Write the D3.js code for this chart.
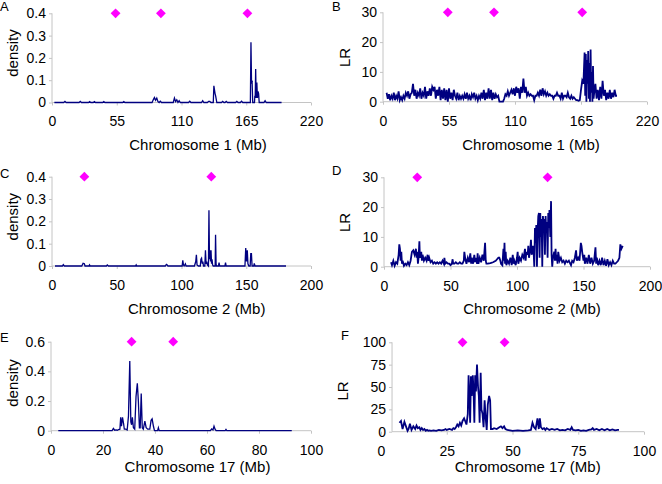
<!DOCTYPE html>
<html>
<head>
<meta charset="utf-8">
<script src="https://cdn.jsdelivr.net/npm/d3@7"></script>
<style>
  html, body { margin: 0; padding: 0; background: #fff; }
  svg { display: block; font-family: "Liberation Sans", Arial, sans-serif; }
</style>
</head>
<body>
<svg id="chart" width="662" height="484"></svg>
<script>
// ---------------- DATA ----------------
const panelLetters = ["A", "B", "C", "D", "E", "F"];
const xTitles = ["Chromosome 1 (Mb)", "Chromosome 1 (Mb)", "Chromosome 2 (Mb)", "Chromosome 2 (Mb)", "Chromosome 17 (Mb)", "Chromosome 17 (Mb)"];
const yTitles = ["density", "LR", "density", "LR", "density", "LR"];

const chr1XTicks = [0, 55, 110, 165, 220];
const chr2XTicks = [0, 50, 100, 150, 200];
const chr17XTicksDensity = [0, 20, 40, 60, 80, 100];
const chr17XTicksLR = [0, 25, 50, 75, 100];
const densityTicks = [0, 0.1, 0.2, 0.3, 0.4];
const densityTicks17 = [0, 0.2, 0.4, 0.6];
const lrTicks = [0, 10, 20, 30];
const lrTicks17 = [0, 25, 50, 75, 100];

// marker (diamond) positions, Mb
const chr1Markers = [54, 92.5, 166];
const chr2Markers = [25, 123];
const chr17Markers = [31, 47];

// [Mb, density]
const chr1Density = [[2,0],[10,0],[11,0.005],[12,0],[23,0],[24,0.005],[25,0],[31,0],[32,0.004],[33,0],[35,0],[36,0.004],[37,0],[43,0],[44,0.004],[45,0],[60,0],[61,0.004],[62,0],
[85,0],[86,0.012],[87,0.022],[88,0.01],[89,0.02],[90,0.004],[91,0],[92,0.006],[93,0],
[103,0],[104,0.02],[105,0.004],[106,0.012],[107,0],[108,0.008],[109,0],
[116,0],[117,0.006],[118,0],[127,0],[128,0.008],[129,0],[132,0],[133,0.005],[134,0.005],[135,0],
[137,0],[137.5,0.075],[138.5,0.04],[139,0.03],[140,0],
[144,0],[145,0.005],[146,0],[147,0],[148,0.005],[149,0],[156,0],[157,0.005],[158,0],[160,0],[161,0.006],[162,0],
[168.5,0],[169,0.27],[169.5,0.085],[170,0.09],[170.5,0],
[172,0],[172.3,0.03],[172.6,0.02],[173,0.15],[173.4,0.02],[174,0.09],[174.5,0.02],[175,0.05],[175.5,0.04],[176,0],
[180,0],[181,0.008],[182,0],[195,0]];

// [Mb, LR]
const chr1LR = [[3,3],[4,1],[5,2.5],[6,0.5],[7,2],[8,1],[9,3],[10,0.5],[11,2],[12,1],[13,3.5],[14,0.5],[15,1.5],[16,0.5],[17,2],[18,1],[19,3],[20,2],[21,3.5],[22,1],[23,2.5],[24,3],[25,6],[26,2],[27,4],[28,1],[29,3],[30,2],[31,4.5],[32,1],[33,3],[34,2],[35,5],[36,1],[37,3.5],[38,2],[39,4.5],[40,2],[41,5],[42,4],[43,5],[44,1],[45,4],[46,2],[47,5],[48,0.5],[49,4],[50,1],[51,4.5],[52,0.5],[53,4],[54,0],[55,4.5],[56,1],[57,3],[58,0.5],[59,4],[60,2],[61,1],[62,3],[63,0.5],[64,2],[65,1],[66,2],[67,1],[68,2.5],[69,1],[70,3],[71,1],[72,2],[73,0.5],[74,2.5],[75,1.5],[76,3],[77,1],[78,2],[79,0.5],[80,2],[81,1],[82,3],[83,1],[84,4],[85,0.5],[86,3],[87,1],[88,4.5],[89,1],[90,4],[91,0.5],[92,3],[93,1],[94,2.5],[95,1.5],[96,2],[97,0],[100,0],[101,1],[102,2.5],[103,2],[104,3.5],[105,2],[106,3],[107,4],[108,2.5],[109,4.5],[110,2],[111,5],[112,3],[113,4.5],[114,1],[115,5],[116,3],[117,7.8],[118,3],[119,5],[120,2],[121,3],[122,2],[123,2.5],[124,2],[125,2],[126,0.5],[127,2],[128,2],[129,3],[130,2],[131,4],[132,2],[133,4.5],[134,2.5],[135,3.5],[136,2],[137,3],[138,2],[139,2.5],[140,2],[141,2],[142,1],[143,2],[144,2],[145,3],[146,2],[147,2],[148,1],[149,3],[150,1],[151,2],[152,2],[153,1.5],[154,3],[155,1.5],[156,1],[157,2],[158,1],[159,1.5],[160,1],[161,0.5],[162,0.5],[163,0.3],[164,0.5],[165,4],[166,7],[167,6],[168,16.5],[168.5,2],[169,16],[169.5,0],[170,14],[170.5,6],[171,17],[171.5,1],[172,13],[172.5,0],[173,17.5],[173.5,3],[174,10],[174.5,0],[175,12],[175.5,1],[176,3],[177,6],[178,1],[179,4],[180,0.5],[181,5],[182,1],[183,7],[184,2],[185,4],[186,0.5],[187,3],[188,1],[189,4],[190,1],[191,3],[192,1.5],[193,4],[194,2],[195,2]];

const chr2Density = [[2.3,0],[8,0],[8.7,0.006],[9.5,0],[23,0],[24,0.012],[25,0.01],[25.5,0],[28.5,0],[29,0.005],[29.5,0],[42,0],[42.7,0.005],[43.5,0],[64.5,0],[65,0.005],[65.5,0],[87.5,0],[88.3,0.007],[89,0.005],[89.5,0],[100.5,0],[101,0.025],[101.5,0.005],[102,0],[103,0.01],[103.5,0],[110,0],[111,0.02],[111.5,0.05],[112,0.005],[113,0],[114.5,0],[115,0.03],[115.5,0.035],[116,0.01],[116.5,0.02],[117,0],[118,0],[118.5,0.07],[119,0.01],[119.5,0.02],[120,0.005],[120.8,0],[121.2,0.25],[121.6,0.03],[122,0.07],[122.4,0.02],[122.8,0.07],[123.2,0.01],[123.6,0.03],[124,0.005],[124.5,0],[126,0],[126.3,0.14],[126.7,0.01],[127,0],[128.5,0],[129,0.015],[129.5,0],[133.5,0],[134,0.015],[134.5,0],[149,0],[149.6,0.08],[150.2,0.02],[150.8,0.07],[151.3,0.01],[152,0],[153,0],[153.5,0.055],[154,0.055],[154.5,0],[155.8,0],[156.2,0.012],[156.8,0],[180.7,0]];

const chr2LR = [[5.3,1.5],[6,0.5],[7,2],[8,0.3],[9,1.5],[10,1],[11,4],[11.5,7.5],[12,6],[12.5,2],[13,5],[13.5,1],[14,2],[15,0.3],[16,1],[17,0.5],[18,1.5],[19,0.5],[20,2],[21,5],[22,5.5],[23,4],[24,6],[24.5,3],[25,5],[25.5,1],[26,3],[26.6,8.5],[27,3],[28,5],[28.5,2],[29,4],[30,2],[31,3],[32,2],[32.8,4],[33.5,2],[34,3],[35,1.5],[36,2],[37,1],[38,1.5],[39,1],[40,1.5],[41,1],[42,1.5],[43,1],[44,2],[45,1],[45.4,3],[46,1],[47,1.5],[48,1],[49,1],[50,0.5],[51,1],[51.6,2.5],[52,1],[53,1],[54,1.5],[55,1],[56,1],[57,1.5],[58,1],[59,1],[60,2],[60.4,5],[61,3],[62,1],[63,3],[64,1.5],[64.9,4.5],[65.5,1],[66,3],[67,1],[67.9,4],[68.5,1.5],[69,3],[70,1],[70.4,4.5],[71,1],[72,3],[73,1.5],[74,4],[75,2],[75.5,5],[76,8],[76.5,2],[77,1],[78,1],[80,1.2],[82,1.5],[84,2],[85,2.5],[86,3],[86.7,3],[87.5,2],[88,1],[89,0.5],[89.8,6],[90.2,2],[90.6,8],[91,1],[91.5,5],[92,0.5],[93,2],[94,1],[95,3],[96,0.5],[96.8,4],[97.5,1],[98,2],[99,0.5],[100,3],[100.5,5],[101,1],[102,3],[103,2],[104,4],[105,3],[106,6],[106.5,2],[107,5],[108,4],[108.5,7],[109,3],[110,6],[110.5,9],[111,4],[112,7],[112.5,5],[113,0],[113.5,13],[114,8],[114.5,14],[115,0],[115.5,12],[116,17],[116.5,18],[117,3],[117.5,18],[118,10],[118.5,16],[119,0],[119.5,17],[120,14],[120.5,16],[121,4],[121.5,17],[122,12],[122.5,15],[123,3],[123.5,18],[124,13],[124.4,19],[125,10],[125.6,22],[126,4],[126.5,0],[127,3],[128,5],[128.5,2],[129,6],[129.5,2],[130,4],[130.5,1],[131,5],[132,2],[133,3],[134,1.5],[135,2],[136,1],[137,2],[138,1.5],[139,2],[140,1],[140.6,0.5],[141.5,2],[142.5,1.5],[143.5,3],[144.4,5.5],[145,2],[146,3],[147,2],[148,8],[148.5,7],[149,5],[150,2],[150.6,4],[151,1],[152,3],[153,1],[154,4],[155,1],[156,3],[157,1],[158,2],[159,6.5],[159.5,1],[160,3],[161,0.5],[162,2],[163,0.5],[164,3],[165,0.5],[166,2],[167,0.3],[168,2.5],[169,0.5],[170,1.5],[171,0.5],[172,2],[173,1],[174,1],[175,1.5],[176,2],[177,3],[177.7,7.5],[178.5,6],[179.5,7]];

const chr17Density = [[2.8,0],[23.5,0],[24,0.015],[24.5,0.003],[25,0.005],[25.5,0.003],[26,0.008],[26.5,0.01],[26.8,0.09],[27.1,0.03],[27.5,0.09],[27.9,0.05],[28.2,0.01],[28.8,0.01],[29.3,0.005],[29.8,0.1],[30.3,0.47],[30.7,0.06],[31,0.04],[31.3,0.09],[31.7,0.02],[32.2,0.01],[32.7,0.23],[33.2,0.32],[33.6,0.2],[34,0.02],[34.3,0.02],[34.7,0.25],[35.1,0.02],[35.5,0.01],[36.1,0.065],[36.6,0.02],[37.2,0.01],[38,0.01],[38.5,0.07],[38.9,0.08],[39.4,0.03],[39.8,0],[41,0],[41.3,0.02],[41.6,0],[61.3,0],[61.8,0.012],[62.3,0.005],[62.7,0.03],[63.1,0.01],[63.5,0],[67,0],[67.3,0.008],[67.6,0],[92.6,0]];

const chr17LR = [[7,10],[7.6,12],[8.2,3],[8.9,11],[9.5,6],[10.1,1],[10.5,3],[11,9],[11.6,2],[12.3,6],[13,3],[13.5,7],[14,4],[14.6,5],[15,2],[15.5,4],[16,2],[16.5,3],[17,1],[17.5,2],[18,1],[18.5,1.5],[19,1],[20,1.5],[21,1],[22,2],[23,1.5],[24,2],[24.5,3],[25,2],[26,3],[27,2],[27.5,4],[28,3],[28.5,5],[29,8],[29.5,6],[30,10],[30.5,7],[31,12],[31.6,15],[32,12],[32.5,8],[33,20],[33.3,63],[33.6,40],[33.9,10],[34.2,62],[34.5,40],[34.9,63],[35.2,45],[35.5,10],[35.8,63],[36.1,45],[36.5,75],[36.9,50],[37.2,40],[37.5,10],[37.9,66],[38.2,25],[38.6,20],[39,5],[39.4,35],[39.8,15],[40.2,2],[40.6,30],[41.1,40],[41.5,35],[41.8,3],[42.5,3],[43,4],[44,3],[45,5],[45.6,6],[46.2,4],[46.8,6],[47.3,3],[48,2],[49,1.5],[50,1],[52,1.5],[54,1],[56,1.5],[57,2],[57.6,10],[58.2,5],[58.8,3],[59.5,15],[60,3],[60.4,15],[60.8,5],[61.4,3],[62,4],[62.5,2],[63,4],[64,2],[65,3],[66,2],[67,3],[68,1.5],[69,2],[70,1.5],[71,3],[72,2],[72.5,5],[73,2],[74,1.5],[75,2],[76,1],[77,1.5],[78,1],[79,2],[80,2.5],[80.5,4],[81,2],[82,3],[83,1.5],[84,3],[85,1.5],[86,3],[87,1.5],[88,2.5],[89,1.5],[90,2],[90.5,2]];

// ---------------- LAYOUT ----------------
const LINE = "#000080", AXIS = "#c4c4c4", MARK = "#ff00ff";
const panels = [
  { letter: panelLetters[0], lx: 0, ly: 11, data: chr1Density, markers: chr1Markers, xDom: [0,220], xR: [52,311], yDom: [0,0.4], yR: [102.5,13.3], yAxisX: 0, xTicks: chr1XTicks, yTicks: densityTicks, xTitle: xTitles[0], xtx: 198, xty: 150, yTitle: yTitles[0], ytx: 18, yty: 53, fmt: d3.format(".1~f"), sw: 1.3 },
  { letter: panelLetters[1], lx: 332, ly: 11, data: chr1LR, markers: chr1Markers, xDom: [0,220], xR: [383,647], yDom: [0,30], yR: [101.7,12.3], yAxisX: 0, xTicks: chr1XTicks, yTicks: lrTicks, xTitle: xTitles[1], xtx: 531, xty: 150, yTitle: yTitles[1], ytx: 349.5, yty: 57.5, fmt: d3.format("d"), sw: 1.8 },
  { letter: panelLetters[2], lx: 0, ly: 178, data: chr2Density, markers: chr2Markers, xDom: [0,200], xR: [52,311], yDom: [0,0.4], yR: [266,176.7], yAxisX: 0, xTicks: chr2XTicks, yTicks: densityTicks, xTitle: xTitles[2], xtx: 196.7, xty: 313.5, yTitle: yTitles[2], ytx: 18, yty: 216.7, fmt: d3.format(".1~f"), sw: 1.3 },
  { letter: panelLetters[3], lx: 332, ly: 175, data: chr2LR, markers: chr2Markers, xDom: [0,200], xR: [384,650], yDom: [0,30], yR: [266.7,177.3], yAxisX: 0, xTicks: chr2XTicks, yTicks: lrTicks, xTitle: xTitles[3], xtx: 532, xty: 313.5, yTitle: yTitles[3], ytx: 350, yty: 222.5, fmt: d3.format("d"), sw: 1.8 },
  { letter: panelLetters[4], lx: 0, ly: 342, data: chr17Density, markers: chr17Markers, xDom: [0,100], xR: [51,311], yDom: [0,0.6], yR: [430.7,341.7], yAxisX: 0, xTicks: chr17XTicksDensity, yTicks: densityTicks17, xTitle: xTitles[4], xtx: 197.5, xty: 472, yTitle: yTitles[4], ytx: 18, yty: 383, fmt: d3.format(".1~f"), sw: 1.3 },
  { letter: panelLetters[5], lx: 341, ly: 340, data: chr17LR, markers: chr17Markers, xDom: [0,100], xR: [381,644], yDom: [0,100], yR: [431.7,342.3], yAxisX: 4.2, xTicks: chr17XTicksLR, yTicks: lrTicks17, xTitle: xTitles[5], xtx: 527.7, xty: 472, yTitle: yTitles[5], ytx: 348, yty: 391, fmt: d3.format("d"), sw: 1.8 }
];

const svg = d3.select("#chart");

panels.forEach(p => {
  const x = d3.scaleLinear().domain(p.xDom).range(p.xR);
  const y = d3.scaleLinear().domain(p.yDom).range(p.yR);
  const g = svg.append("g");
  const ax0 = x(p.yAxisX);

  // y axis
  const yAxis = d3.axisLeft(y).tickValues(p.yTicks).tickSize(3).tickPadding(3).tickFormat(p.fmt);
  const ya = g.append("g").attr("transform", `translate(${ax0},0)`).call(yAxis);
  ya.select(".domain").attr("stroke", AXIS).attr("d", `M0,${p.yR[0]}V${p.yR[1]}`);
  ya.selectAll(".tick line").attr("stroke", AXIS);
  ya.selectAll(".tick text").attr("font-size", 14).attr("fill", "#000")
    .attr("font-family", "Liberation Sans, Arial, sans-serif");

  // x axis
  const xAxis = d3.axisBottom(x).tickValues(p.xTicks).tickSize(3).tickPadding(11).tickFormat(d3.format("d"));
  const xa = g.append("g").attr("transform", `translate(0,${p.yR[0]})`).call(xAxis);
  xa.select(".domain").attr("stroke", AXIS).attr("d", `M${ax0},0H${p.xR[1]}`);
  xa.selectAll(".tick line").attr("stroke", AXIS);
  xa.selectAll(".tick text").attr("font-size", 14).attr("fill", "#000")
    .attr("font-family", "Liberation Sans, Arial, sans-serif");

  // series line
  const line = d3.line().x(d => x(d[0])).y(d => y(d[1]));
  g.append("path").datum(p.data).attr("d", line)
    .attr("fill", "none").attr("stroke", LINE).attr("stroke-width", p.sw).attr("stroke-linejoin", "miter");

  // markers
  const sym = d3.symbol().type(d3.symbolSquare).size(48);
  g.selectAll(".mk").data(p.markers).join("path")
    .attr("d", sym)
    .attr("transform", d => `translate(${x(d)},${y(p.yDom[1])}) rotate(45)`)
    .attr("fill", MARK);

  // titles
  g.append("text").attr("x", p.xtx).attr("y", p.xty).attr("text-anchor", "middle")
    .attr("font-size", 15).text(p.xTitle);
  g.append("text").attr("transform", `translate(${p.ytx},${p.yty}) rotate(-90)`)
    .attr("text-anchor", "middle").attr("font-size", 15).text(p.yTitle);
  g.append("text").attr("x", p.lx).attr("y", p.ly).attr("font-size", 13).text(p.letter);
});
</script>
</body>
</html>
